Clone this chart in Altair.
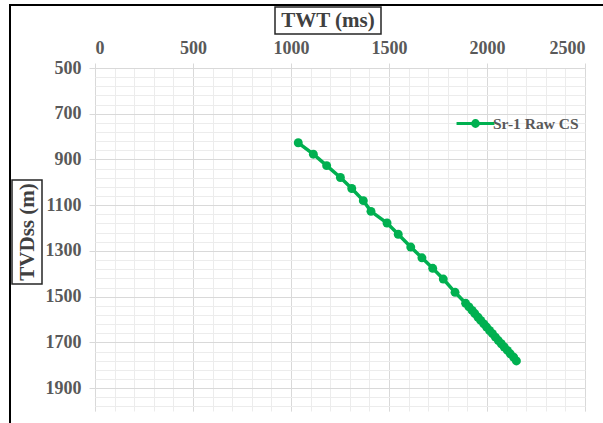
import altair as alt
import pandas as pd

# ---- data ----
twt_ms = [1037, 1114, 1182, 1252, 1310, 1369, 1408, 1490, 1547, 1611, 1668, 1723,
          1777, 1837, 1891, 1908, 1924, 1938, 1954, 1968, 1984, 1998, 2013, 2028,
          2043, 2058, 2073, 2088, 2104, 2119, 2136, 2150]
tvdss_m = [827, 877, 927, 979, 1027, 1080, 1127, 1178, 1227, 1283, 1330, 1376,
           1423, 1481, 1529, 1545, 1560, 1574, 1590, 1604, 1619, 1633, 1648, 1662,
           1677, 1692, 1706, 1720, 1735, 1750, 1765, 1781]
series_name = "Sr-1 Raw CS"

x_major = [0, 500, 1000, 1500, 2000, 2500]
y_major = [500, 700, 900, 1100, 1300, 1500, 1700, 1900]
x_minor = list(range(0, 2501, 100))
y_minor = list(range(500, 2001, 40))

x_title = "TWT (ms)"
y_title = "TVDss (m)"

GREEN = "#00B050"
LABEL = "#595959"
FONT = "Liberation Serif"

df = pd.DataFrame({"twt": twt_ms, "tvd": tvdss_m, "series": [series_name] * len(twt_ms)})
dummy = pd.DataFrame({"k": [0]})

xs = alt.Scale(domain=[0, 2500], nice=False, zero=False)
ys = alt.Scale(domain=[500, 2000], reverse=True, nice=False, zero=False)

legend_symbol = "M-1.58,0L1.58,0M0.24,0A0.24,0.24,0,1,1,-0.24,0A0.24,0.24,0,1,1,0.24,0Z"

line = alt.Chart(df).mark_line(strokeWidth=3.5, color=GREEN).encode(
    x=alt.X("twt:Q", scale=xs, axis=alt.Axis(
        orient="bottom", values=x_minor, labels=False, ticks=False, domain=False,
        grid=True, gridColor="#ececec", gridWidth=1, title=None)),
    y=alt.Y("tvd:Q", scale=ys, axis=alt.Axis(
        orient="right", values=y_minor, labels=False, ticks=False, domain=False,
        grid=True, gridColor="#ececec", gridWidth=1, title=None)),
    color=alt.Color("series:N", scale=alt.Scale(range=[GREEN]), legend=alt.Legend(
        title=None, orient="none", legendX=367, legendY=42,
        symbolType=legend_symbol, symbolSize=576, symbolStrokeWidth=3,
        symbolFillColor=GREEN, symbolStrokeColor=GREEN,
        labelFont=FONT, labelFontWeight="bold", labelFontSize=15.5,
        labelColor=LABEL, labelOffset=4)),
)

points = alt.Chart(df).mark_circle(size=80, opacity=1, color=GREEN).encode(
    x=alt.X("twt:Q", scale=xs, axis=alt.Axis(
        orient="top", values=x_major, format="d", grid=True, gridColor="#d9d9d9",
        domain=False, ticks=True, tickSize=5, tickColor="#d9d9d9",
        labelFont=FONT, labelFontWeight="bold", labelFontSize=18,
        labelColor=LABEL, labelPadding=6, title=None)),
    y=alt.Y("tvd:Q", scale=ys, axis=alt.Axis(
        orient="left", values=y_major, format="d", grid=True, gridColor="#d9d9d9",
        domain=False, ticks=True, tickSize=6, tickColor="#d9d9d9",
        labelFont=FONT, labelFontWeight="bold", labelFontSize=18,
        labelColor=LABEL, labelPadding=8, title=None)),
)

frame = alt.Chart(dummy).mark_rect(fillOpacity=0, stroke="#000000", strokeWidth=2).encode(
    x=alt.value(-85), x2=alt.value(540), y=alt.value(-63), y2=alt.value(380))

xbox = alt.Chart(dummy).mark_rect(fillOpacity=0, stroke="#262626", strokeWidth=1.5).encode(
    x=alt.value(180), x2=alt.value(286), y=alt.value(-61), y2=alt.value(-34))
xtext = alt.Chart(dummy).mark_text(font=FONT, fontWeight="bold", fontSize=21,
                                   color="#404040", align="center", baseline="middle").encode(
    x=alt.value(233), y=alt.value(-47), text=alt.value(x_title))

ybox = alt.Chart(dummy).mark_rect(fillOpacity=0, stroke="#262626", strokeWidth=1.5).encode(
    x=alt.value(-83), x2=alt.value(-53), y=alt.value(112), y2=alt.value(216))
ytext = alt.Chart(dummy).mark_text(font=FONT, fontWeight="bold", fontSize=21,
                                   color="#404040", align="center", baseline="middle",
                                   angle=270).encode(
    x=alt.value(-67), y=alt.value(164), text=alt.value(y_title))

chart = alt.layer(line, points, frame, xbox, xtext, ybox, ytext).resolve_axis(
    x="independent", y="independent"
).properties(
    width=490, height=343,
    autosize=alt.AutoSizeParams(type="none"),
    padding={"left": 95, "top": 68, "right": 18, "bottom": 12},
    background="white",
).configure_view(stroke=None)

chart.save("out.html", embed_options={"renderer": "svg", "actions": False})
